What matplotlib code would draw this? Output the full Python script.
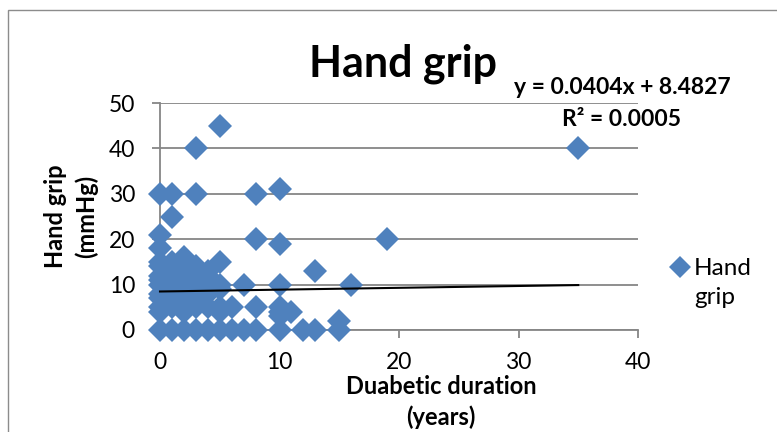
import matplotlib.pyplot as plt
from matplotlib.patches import Rectangle
from matplotlib.lines import Line2D
import numpy as np

plt.rcParams['font.family'] = ['Lato', 'DejaVu Sans']

# diabetic duration (years) and hand grip (mmHg)
duration = [0, 1, 2, 3, 4, 5, 6, 7, 8, 10, 12, 13, 15,
            15, 10, 10, 11, 10,
            0, 1, 3, 4, 5, 6, 8,
            0, 2, 5,
            3,
            0, 1, 2, 3,
            0, 1, 2, 4,
            1, 3, 5,
            0, 1, 2, 3, 4, 5, 7, 10, 16,
            0, 1, 2, 3,
            0, 1, 2, 3, 4,
            1, 2, 4, 13,
            0, 1, 3,
            0, 1, 5,
            2, 0, 10, 8, 19, 0, 1,
            0, 1, 3, 8, 10,
            3, 35, 5]
grip = [0, 0, 0, 0, 0, 0, 0, 0, 0, 0, 0, 0, 0,
        2, 3, 4, 4, 5,
        5, 5, 5, 5, 5, 5, 5,
        4, 4, 4,
        6,
        7, 7, 7, 7,
        8, 8, 8, 8,
        9, 9, 9,
        10, 10, 10, 10, 10, 10, 10, 10, 10,
        11, 11, 11, 11,
        12, 12, 12, 12, 12,
        13, 13, 13, 13,
        14, 14, 14,
        15, 15, 15,
        16, 18, 19, 20, 20, 21, 25,
        30, 30, 30, 30, 31,
        40, 40, 45]

# Excel trendline shown on the chart
slope = 0.0404
intercept = 8.4827
r2 = 0.0005

xticks = [0, 10, 20, 30, 40]
yticks = [0, 10, 20, 30, 40, 50]

blue = '#4F81BD'
gray = '#868686'

fig = plt.figure(figsize=(7.77, 4.32), dpi=100)
fig.patches.append(Rectangle((8 / 777, -0.05), 1.1, 1 - 10 / 432 + 0.05,
                             transform=fig.transFigure, fill=False,
                             ec='#8c8c8c', lw=1))
ax = fig.add_axes([160 / 777, 1 - 330 / 432, 478 / 777, 227 / 432])

ax.plot(duration, grip, 'D', color=blue, markersize=12, markeredgewidth=0,
        clip_on=False, zorder=3)

tx = np.array([min(duration), max(duration)])
ax.plot(tx, slope * tx + intercept, color='black', lw=1.5, zorder=4,
        clip_on=False)

ax.set_xlim(0, 40)
ax.set_ylim(0, 50)
ax.set_xticks(xticks)
ax.set_yticks(yticks)
ax.yaxis.grid(True, color=gray, lw=1.3)
ax.set_axisbelow(True)
for s in ['top', 'right']:
    ax.spines[s].set_visible(False)
for s in ['left', 'bottom']:
    ax.spines[s].set_color(gray)
    ax.spines[s].set_linewidth(1.3)
ax.tick_params(axis='both', direction='out', length=6, width=1.3,
               color=gray, labelsize=16.5, labelcolor='black')
ax.tick_params(axis='x', pad=10)
ax.tick_params(axis='y', pad=12)

fig.text(403 / 777, 1 - 64 / 432, 'Hand grip', fontsize=31, fontweight='bold',
         ha='center', va='center')
fig.text(622 / 777, 1 - 87 / 432, f'y = {slope}x + {intercept}', fontsize=16.5,
         fontweight='bold', ha='center', va='center')
fig.text(622 / 777, 1 - 119 / 432, f'R² = {r2:.4f}', fontsize=16.5,
         fontweight='bold', ha='center', va='center')
fig.text(441 / 777, 1 - 402 / 432, 'Duabetic duration\n(years)', fontsize=17,
         fontweight='bold', ha='center', va='center', linespacing=1.4)
fig.text(71 / 777, 1 - 216 / 432, 'Hand grip\n(mmHg)', fontsize=17,
         fontweight='bold', ha='center', va='center', rotation=90,
         linespacing=1.35)

# legend
fig.add_artist(Line2D([680 / 777], [1 - 267 / 432], marker='D', color=blue,
                      markersize=11, markeredgewidth=0,
                      transform=fig.transFigure))
fig.text(694 / 777, 1 - 283 / 432, 'Hand\ngrip', fontsize=17.5, ha='left',
         va='center', linespacing=1.5)

fig.savefig('out.png', dpi=100)
